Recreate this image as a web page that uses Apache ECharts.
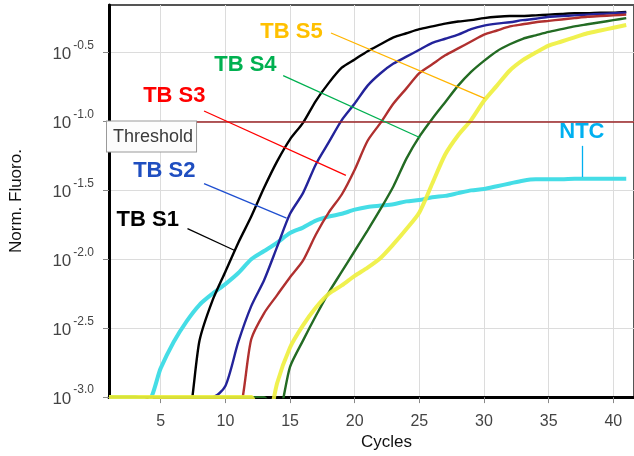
<!DOCTYPE html>
<html>
<head>
<meta charset="utf-8">
<script src="https://cdn.jsdelivr.net/npm/echarts@6/dist/echarts.min.js"></script>
<style>
html,body{margin:0;padding:0;background:#fff;}
#chart{width:634px;height:456px;}
</style>
</head>
<body>
<div id="chart"></div>
<script>
// ---- data (values are log10 of normalised fluorescence) ----
const cycles = [1,2,3,4,5,6,7,8,9,10,11,12,13,14,15,16,17,18,19,20,21,22,23,24,25,26,27,28,29,30,31,32,33,34,35,36,37,38,39,40,41];
const seriesNames = ['TB S1','TB S2','TB S3','TB S4','TB S5','NTC'];
const tbS1 = [-3.0,-3.0,-3.0,-3.0,-3.0,-3.0,-3.2,-2.59,-2.30,-2.09,-1.88,-1.69,-1.48,-1.29,-1.13,-1.01,-0.85,-0.72,-0.61,-0.55,-0.49,-0.44,-0.39,-0.36,-0.33,-0.31,-0.29,-0.275,-0.265,-0.25,-0.24,-0.235,-0.235,-0.23,-0.225,-0.22,-0.215,-0.215,-0.21,-0.21,-0.205];
const tbS2 = [-3.0,-3.0,-3.0,-3.0,-3.0,-3.0,-3.0,-3.0,-3.0,-2.92,-2.60,-2.34,-2.15,-1.91,-1.67,-1.52,-1.31,-1.15,-0.99,-0.87,-0.74,-0.65,-0.58,-0.53,-0.48,-0.43,-0.40,-0.37,-0.33,-0.305,-0.29,-0.28,-0.265,-0.255,-0.24,-0.235,-0.23,-0.225,-0.22,-0.215,-0.21];
const tbS3 = [-3.0,-3.0,-3.0,-3.0,-3.0,-3.0,-3.0,-3.0,-3.0,-3.0,-3.1,-2.58,-2.39,-2.26,-2.13,-2.01,-1.82,-1.66,-1.53,-1.35,-1.14,-1.01,-0.87,-0.76,-0.65,-0.585,-0.52,-0.47,-0.42,-0.37,-0.34,-0.31,-0.295,-0.28,-0.27,-0.26,-0.25,-0.24,-0.235,-0.23,-0.225];
const tbS4 = [-3.0,-3.0,-3.0,-3.0,-3.0,-3.0,-3.0,-3.0,-3.0,-3.0,-3.0,-3.0,-3.0,-3.15,-2.78,-2.59,-2.41,-2.24,-2.09,-1.94,-1.79,-1.635,-1.47,-1.27,-1.11,-0.98,-0.86,-0.74,-0.64,-0.56,-0.49,-0.44,-0.40,-0.375,-0.35,-0.33,-0.31,-0.295,-0.28,-0.265,-0.25];
const tbS5 = [-3.0,-3.0,-3.0,-3.0,-3.0,-3.0,-3.0,-3.0,-3.0,-3.0,-3.0,-3.0,-3.3,-2.90,-2.64,-2.48,-2.35,-2.25,-2.19,-2.12,-2.06,-1.99,-1.89,-1.78,-1.66,-1.45,-1.24,-1.10,-0.99,-0.85,-0.74,-0.63,-0.555,-0.50,-0.45,-0.42,-0.39,-0.36,-0.34,-0.32,-0.30];
const ntc  = [-3.0,-3.0,-3.0,-3.03,-2.79,-2.60,-2.45,-2.33,-2.25,-2.18,-2.10,-2.00,-1.94,-1.88,-1.81,-1.77,-1.72,-1.69,-1.67,-1.64,-1.62,-1.61,-1.60,-1.58,-1.57,-1.55,-1.54,-1.52,-1.50,-1.49,-1.47,-1.45,-1.43,-1.42,-1.42,-1.42,-1.415,-1.415,-1.415,-1.415,-1.415];
const thresholdLevel = -1.0;
const thresholdText = 'Threshold';
const xTickValues = [5,10,15,20,25,30,35,40];
const yTickValues = [-3.0,-2.5,-2.0,-1.5,-1.0,-0.5];

// annotation anchors in data space [cycle, log10 fluoro]
const labelAnchors = [[4.0,-1.712],[5.28,-1.361],[6.05,-0.812],[11.55,-0.593],[15.11,-0.352],[37.57,-1.073]];
const leaderLines = [
  [[7.07,-1.778],[10.77,-1.938]],
  [[8.35,-1.451],[14.73,-1.701]],
  [[8.35,-0.924],[19.32,-1.391]],
  [[14.47,-0.667],[25.07,-1.118]],
  [[18.17,-0.358],[30.05,-0.833]],
  [[37.57,-1.177],[37.57,-1.403]]
];

const values = [tbS1, tbS2, tbS3, tbS4, tbS5, ntc];
const lineColors = ['#000000','#23239a','#b0302f','#236b23','#eef03c','#45dde6'];
const lineWidths = [2.4,2.4,2.4,2.4,4,4];
const textColors = ['#000000','#1f4ec0','#ff0000','#00b050','#ffc000','#00b0f0'];
const leaderColors = ['#000000','#1f4fd0','#ff0000','#00b050','#ffb400','#00b0f0'];

const FONT = 'Liberation Sans, Arial, sans-serif';
const LABEL_FONT = '"Liberation Sans", Arial, sans-serif';

const chart = echarts.init(document.getElementById('chart'), null, {renderer:'canvas'});

const drawOrder = [5,0,1,2,3,4];
const series = drawOrder.map(function(i){
  const s = {
    name: seriesNames[i],
    type: 'line',
    data: cycles.map(function(c, k){ return [c, values[i][k]]; }),
    showSymbol: false,
    smooth: 0.25,
    clip: true,
    lineStyle: {color: lineColors[i], width: lineWidths[i], opacity: i === 4 ? 0.9 : 1},
    itemStyle: {color: lineColors[i]},
    z: 3,
    markLine: {
      silent: true,
      symbol: ['none','none'],
      label: {show:false},
      lineStyle: {color: leaderColors[i], width: 1.3, type:'solid'},
      data: [[{coord: leaderLines[i][0]}, {coord: leaderLines[i][1]}]]
    },
    markPoint: {
      silent: true,
      symbol: 'circle',
      symbolSize: 0,
      label: {
        show: true,
        position: 'inside',
        formatter: seriesNames[i],
        color: textColors[i],
        fontSize: 22,
        fontWeight: 'bold',
        fontFamily: LABEL_FONT
      },
      data: [{coord: labelAnchors[i]}]
    }
  };
  if (i === 5) {
    s.markLine.data.push({yAxis: thresholdLevel, lineStyle:{color:'#9b2427', width:1.5, type:'solid'}});
    s.markPoint.data.push({
      coord: [cycles[0], thresholdLevel],
      label: {
        show: true,
        position: [-2, 0],
        formatter: thresholdText,
        color: '#3a3a3a',
        fontSize: 18,
        fontWeight: 'normal',
        fontFamily: FONT,
        lineHeight: 19,
        backgroundColor: '#fcfcfc',
        borderColor: '#9a9a9a',
        borderWidth: 1,
        padding: [6, 3, 5, 6]
      }
    });
  }
  return s;
});

chart.setOption({
  animation: false,
  backgroundColor: '#ffffff',
  grid: {left: 105.5, right: -2, top: 5, bottom: 52, show: true, borderColor: '#555', borderWidth: 2, backgroundColor: 'transparent'},
  xAxis: {
    type: 'value',
    min: 1, max: 41.6,
    splitNumber: 8,
    name: 'Cycles',
    nameLocation: 'middle',
    nameGap: 36,
    nameTextStyle: {fontSize: 17, color: '#111', fontFamily: FONT, padding: [0,0,0,30]},
    axisLine: {show: true, onZero: false, lineStyle: {color: '#000', width: 3}},
    axisTick: {show: true, length: 6, customValues: xTickValues, lineStyle: {color: '#888', width: 1}},
    axisLabel: {customValues: xTickValues, fontSize: 16, color: '#444', fontFamily: FONT, margin: 16},
    splitLine: {show: true, lineStyle: {color: '#dcdcdc', width: 1}}
  },
  yAxis: {
    type: 'value',
    min: -3.0, max: -0.155,
    interval: 0.5,
    name: 'Norm. Fluoro.',
    nameLocation: 'middle',
    nameGap: 84,
    nameTextStyle: {fontSize: 17, color: '#111', fontFamily: FONT},
    axisLine: {show: true, onZero: false, lineStyle: {color: '#000', width: 3}},
    axisTick: {show: true, length: 6, customValues: yTickValues, lineStyle: {color: '#888', width: 1}},
    axisLabel: {
      customValues: yTickValues,
      margin: 15,
      padding: [4, 0, 0, 0],
      formatter: function(v){ return '{b|10}{g|}{s|' + v.toFixed(1) + '}'; },
      rich: {
        b: {fontSize: 17, color: '#444', fontFamily: FONT, lineHeight: 30},
        g: {width: 2, lineHeight: 30},
        s: {fontSize: 12, color: '#444', fontFamily: FONT, lineHeight: 12, verticalAlign: 'top'}
      }
    },
    splitLine: {show: true, lineStyle: {color: '#dcdcdc', width: 1}}
  },
  series: series
});
</script>
</body>
</html>
